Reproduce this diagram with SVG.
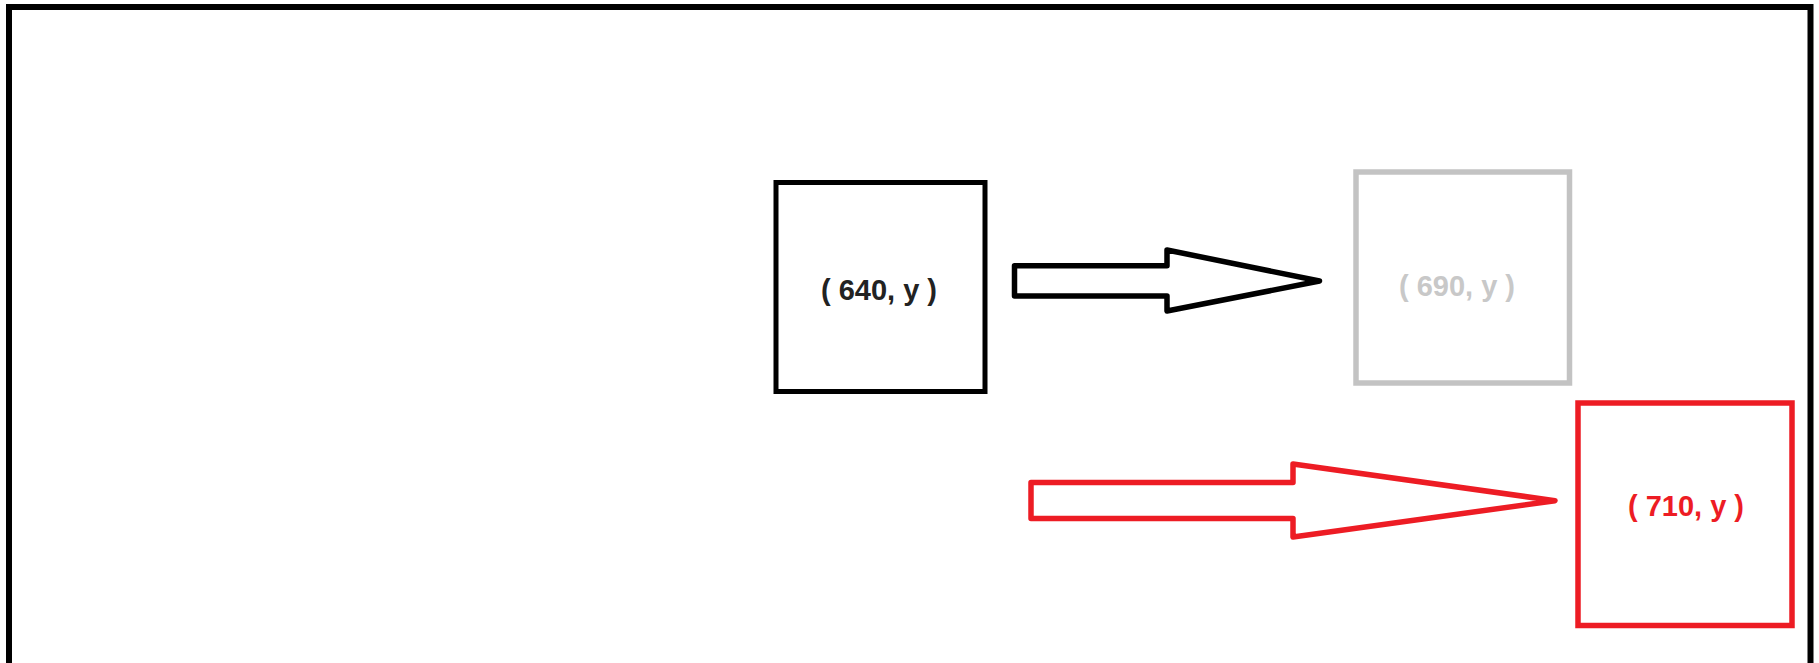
<svg xmlns="http://www.w3.org/2000/svg" width="1819" height="663" viewBox="0 0 1819 663">
<style>
.lbl{font-family:"Liberation Sans",Arial,sans-serif;font-weight:bold;font-size:29px;text-anchor:middle}
.box{fill:none}
.arrow{fill:none;stroke-width:5.5;stroke-linejoin:round}
</style>
<rect width="1819" height="663" fill="#fff"/>
<g id="frame"><path d="M9,670 V7 H1810.5 V670" fill="none" stroke="#000" stroke-width="6"/></g>
<g id="node640">
<rect class="box" x="776" y="182.5" width="209" height="209" stroke="#000" stroke-width="5"/>
<text class="lbl" x="879" y="300" fill="#222">( 640, y )</text>
</g>
<g id="node690">
<rect class="box" x="1356" y="172" width="213.5" height="211" stroke="#c3c3c3" stroke-width="5.5"/>
<text class="lbl" x="1457" y="296" fill="#c8c8c8">( 690, y )</text>
</g>
<g id="node710">
<rect class="box" x="1578" y="403" width="214" height="222.5" stroke="#ed1c24" stroke-width="5.5"/>
<text class="lbl" x="1686" y="516" fill="#ed1c24">( 710, y )</text>
</g>
<g id="connectors">
<path class="arrow" stroke="#000" d="M1014.5,265.7 H1167 V250 L1319.5,281 L1167,311 V296 H1014.5 Z"/>
<path class="arrow" stroke="#ed1c24" d="M1031,482.5 H1293 V464 L1555,500.7 L1293,537 V518.6 H1031 Z"/>
</g>
</svg>
